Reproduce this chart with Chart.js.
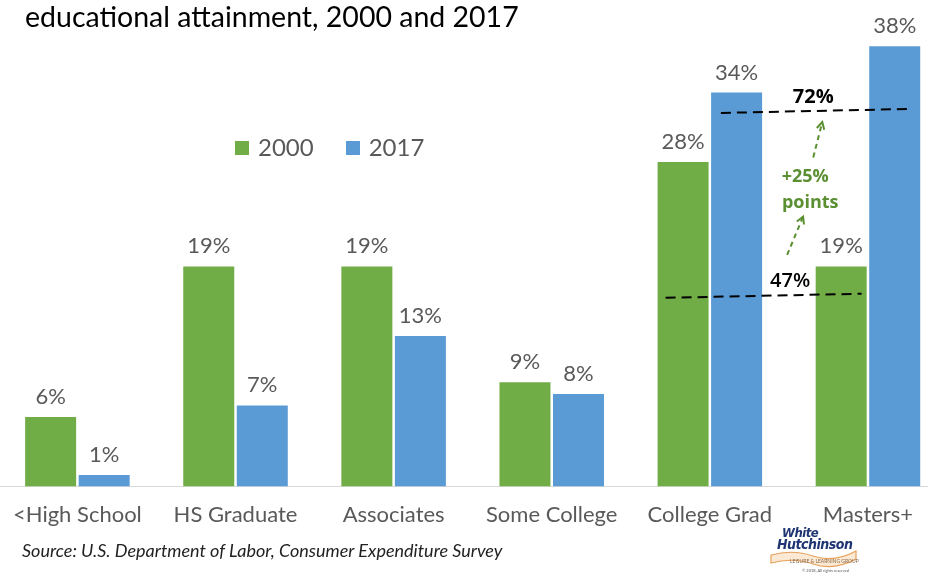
<!DOCTYPE html>
<html>
<head>
<meta charset="utf-8">
<script src="https://cdn.jsdelivr.net/npm/chart.js@4.4.1/dist/chart.umd.min.js"></script>
<style>
  html, body { margin: 0; padding: 0; background: #fff; overflow: hidden; }
  body { width: 928px; height: 576px; position: relative; font-family: Lato, sans-serif; }
  #wrap { position: absolute; left: -2px; top: 0; width: 949px; height: 576px; }
  #title { position: absolute; left: 25px; top: -1px; font-size: 28.5px; line-height: 1.2; color: #000; white-space: nowrap; }
  #legend { position: absolute; left: 235px; top: 133px; font-size: 24px; line-height: 1.2; color: #595959; white-space: nowrap; }
  #legend span.sw { display: inline-block; width: 14px; height: 14px; margin-right: 9px; vertical-align: 1px; }
  #legend span.item { margin-right: 32px; }
  #source { position: absolute; left: 22px; top: 540px; font-size: 18px; line-height: 1.2; font-style: italic; color: #222; white-space: nowrap; }
  #logo { position: absolute; left: 768px; top: 522px; width: 92px; height: 54px; }
  #logo .w { position: absolute; font-family: "DejaVu Sans Condensed", "DejaVu Sans", sans-serif; font-weight: bold; font-style: italic; color: #1f3573; letter-spacing: -0.5px; }
  #logo .tiny { position: absolute; font-size: 5px; color: #555; white-space: nowrap; }
</style>
</head>
<body>
<div id="wrap"><canvas id="grafico"></canvas></div>
<div id="title">educational attainment, 2000 and 2017</div>
<div id="legend"></div>
<div id="source">Source: U.S. Department of Labor, Consumer Expenditure Survey</div>
<div id="logo">
  <svg width="92" height="54" style="position:absolute;left:0;top:0">
    <path d="M3 33 Q25 27 45 34 Q66 41 88 29 L88 37 Q66 49 45 42 Q25 35 3 41 Z" fill="#fbe9d4" stroke="#e6a15c" stroke-width="1.2"/>
  </svg>
  <div class="w" style="left:14px;top:3px;font-size:13px;">White</div>
  <div class="w" style="left:9px;top:14px;font-size:14px;">Hutchinson</div>
  <div class="tiny" style="left:22px;top:36px;font-size:5px;color:#8a6a4a;">LEISURE &amp; LEARNING GROUP</div>
  <div class="tiny" style="left:34px;top:46px;font-size:4px;">© 2018, All rights reserved</div>
</div>
<script>
const ctx = document.getElementById("grafico");

// categorias e valores (% do total)
const categorias = ["<High School", "HS Graduate", "Associates", "Some College", "College Grad", "Masters+"];
const anos = ["2000", "2017"];
const valores2000 = [6, 19, 19, 9, 28, 19];
const valores2017 = [1, 7, 13, 8, 34, 38];
const cores = ["#70AD47", "#5B9BD5"];

// College Grad + Masters+ em cada ano
const soma2000 = valores2000[4] + valores2000[5];
const soma2017 = valores2017[4] + valores2017[5];

// legenda feita no html
const legend = document.getElementById("legend");
anos.forEach((ano, i) => {
  const item = document.createElement("span");
  item.className = "item";
  item.innerHTML = `<span class="sw" style="background:${cores[i]}"></span>${ano}`;
  legend.appendChild(item);
});

// rotulos em cima das barras
const rotulos = {
  id: "rotulos",
  afterDatasetsDraw(chart) {
    const c = chart.ctx;
    c.save();
    c.font = "22px Lato";
    c.fillStyle = "#595959";
    c.textAlign = "center";
    c.textBaseline = "alphabetic";
    chart.data.datasets.forEach((ds, i) => {
      chart.getDatasetMeta(i).data.forEach((bar, j) => {
        c.fillText(ds.data[j] + "%", bar.x, bar.y - 13);
      });
    });
    c.restore();
  },
};

// linhas tracejadas e setas (posicoes em unidades dos eixos)
const notas = {
  id: "notas",
  afterDraw(chart) {
    const c = chart.ctx;
    const sx = chart.scales.x;
    const sy = chart.scales.y;
    const P = (i, v) => [sx.getPixelForValue(i), sy.getPixelForValue(v)];

    function tracejado(a, b, cor, dash, w) {
      c.save();
      c.strokeStyle = cor;
      c.lineWidth = w;
      c.setLineDash(dash);
      c.beginPath();
      c.moveTo(a[0], a[1]);
      c.lineTo(b[0], b[1]);
      c.stroke();
      c.restore();
    }
    function seta(a, b) {
      tracejado(a, b, "#5A8F32", [5, 4], 2);
      const ang = Math.atan2(b[1] - a[1], b[0] - a[0]);
      c.save();
      c.strokeStyle = "#5A8F32";
      c.lineWidth = 2;
      c.beginPath();
      c.moveTo(b[0] - 8 * Math.cos(ang - 0.5), b[1] - 8 * Math.sin(ang - 0.5));
      c.lineTo(b[0], b[1]);
      c.lineTo(b[0] - 8 * Math.cos(ang + 0.5), b[1] - 8 * Math.sin(ang + 0.5));
      c.stroke();
      c.restore();
    }
    function texto(t, p, font, cor) {
      c.save();
      c.font = font;
      c.fillStyle = cor;
      c.textAlign = "center";
      c.textBaseline = "middle";
      c.fillText(t, p[0], p[1]);
      c.restore();
    }

    tracejado(P(4.07, 32.24), P(5.28, 32.59), "#000", [10, 6], 2);
    tracejado(P(3.72, 16.29), P(4.96, 16.64), "#000", [10, 6], 2);
    texto(soma2017 + "%", P(4.654, 33.6), "bold 20px 'Open Sans'", "#000");
    texto(soma2000 + "%", P(4.508, 17.7), "600 20px 'Open Sans'", "#000");

    seta(P(4.489, 20.0), P(4.59, 23.3));
    seta(P(4.654, 28.4), P(4.711, 31.45));
    texto("+" + (soma2017 - soma2000) + "%", P(4.603, 26.7), "bold 18px 'Open Sans'", "#5A8F32");
    texto("points", P(4.635, 24.5), "bold 18px 'Open Sans'", "#5A8F32");
  },
};

new Chart(ctx, {
  type: "bar",
  data: {
    labels: categorias,
    datasets: [
      { label: anos[0], data: valores2000, backgroundColor: cores[0] },
      { label: anos[1], data: valores2017, backgroundColor: cores[1] },
    ],
  },
  options: {
    responsive: true,
    maintainAspectRatio: false,
    animation: false,
    events: [],
    categoryPercentage: 0.677,
    barPercentage: 0.953,
    layout: { padding: { top: 23, bottom: 33, left: 0, right: 0 } },
    plugins: {
      legend: { display: false },
      title: { display: false },
      tooltip: { enabled: false },
    },
    scales: {
      x: {
        grid: { display: false, drawTicks: false },
        border: { display: true, color: "#D9D9D9", width: 1 },
        ticks: { color: "#595959", font: { family: "Lato", size: 22 }, padding: 15, maxRotation: 0, autoSkip: false },
      },
      y: {
        display: false,
        min: 0,
        max: 40,
      },
    },
  },
  plugins: [rotulos, notas],
});
</script>
</body>
</html>
